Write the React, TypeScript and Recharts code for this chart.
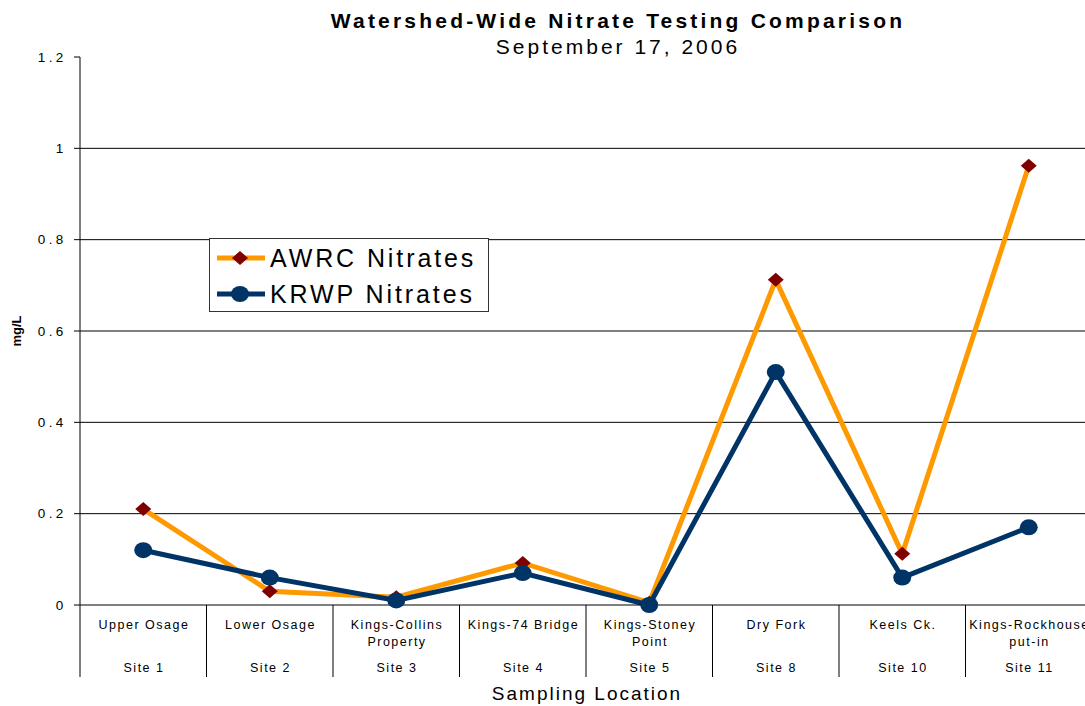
import React from 'react';
import { LineChart, Line, XAxis, YAxis, CartesianGrid, Legend } from 'recharts';

const siteNames = [
  'Upper Osage',
  'Lower Osage',
  'Kings-Collins\nProperty',
  'Kings-74 Bridge',
  'Kings-Stoney\nPoint',
  'Dry Fork',
  'Keels Ck.',
  'Kings-Rockhouse\nput-in',
];
const siteNumbers = ['Site 1', 'Site 2', 'Site 3', 'Site 4', 'Site 5', 'Site 8', 'Site 10', 'Site 11'];
const awrcNitrates = [0.21, 0.03, 0.017, 0.092, 0.005, 0.712, 0.112, 0.962];
const krwpNitrates = [0.12, 0.06, 0.01, 0.07, 0, 0.51, 0.06, 0.17];
const yTicks = [0, 0.2, 0.4, 0.6, 0.8, 1, 1.2];
const gridValues = [0.2, 0.4, 0.6, 0.8, 1];

const seriesNames = { awrc: 'AWRC Nitrates', krwp: 'KRWP Nitrates' };
const ORANGE = '#FF9900';
const DARKRED = '#800000';
const NAVY = '#003366';
const FONT = '"Liberation Sans", Arial, sans-serif';

const data = siteNames.map((name, i) => ({
  name,
  site: siteNumbers[i],
  awrc: awrcNitrates[i],
  krwp: krwpNitrates[i],
}));

const Diamond = ({ cx, cy }: { cx: number; cy: number }) => (
  <polygon
    points={`${cx},${cy - 7} ${cx + 8},${cy} ${cx},${cy + 7} ${cx - 8},${cy}`}
    fill={DARKRED}
  />
);

const Oval = ({ cx, cy }: { cx: number; cy: number }) => (
  <ellipse cx={cx} cy={cy} rx={9} ry={8} fill={NAVY} />
);

const renderDiamondDot = (p: any) => {
  if (p.cx == null || p.cy == null) return <g key={p.key} />;
  return (
    <g key={p.key ?? `d-${p.index}`}>
      <Diamond cx={p.cx} cy={p.cy} />
    </g>
  );
};

const renderOvalDot = (p: any) => {
  if (p.cx == null || p.cy == null) return <g key={p.key} />;
  return (
    <g key={p.key ?? `o-${p.index}`}>
      <Oval cx={p.cx} cy={p.cy} />
    </g>
  );
};

const XTick = (props: any) => {
  const { x, y, payload, index } = props;
  const half = payload && typeof payload.offset === 'number' && payload.offset > 0 ? payload.offset : 63.25;
  const lines = String(payload.value).split('\n');
  const site = siteNumbers[index];
  return (
    <g>
      <line x1={x - half} x2={x - half} y1={y} y2={y + 72} stroke="#000" strokeWidth={1} />
      {index === siteNames.length - 1 && (
        <line x1={x + half} x2={x + half} y1={y} y2={y + 72} stroke="#000" strokeWidth={1} />
      )}
      {lines.map((l, i) => (
        <text
          key={i}
          x={x + 0.75}
          y={y + 24 + i * 17}
          textAnchor="middle"
          fontSize={12.5}
          letterSpacing={1.5}
          fill="#000"
          fontFamily={FONT}
        >
          {l}
        </text>
      ))}
      <text
        x={x + 0.75}
        y={y + 67}
        textAnchor="middle"
        fontSize={12.5}
        letterSpacing={1.5}
        fill="#000"
        fontFamily={FONT}
      >
        {site}
      </text>
    </g>
  );
};

const LegendBox = () => (
  <svg width={280} height={74} style={{ display: 'block' }}>
    <rect x={0.5} y={0.5} width={279} height={73} fill="#fff" stroke="#333" strokeWidth={1} />
    <line x1={8} x2={56} y1={20} y2={20} stroke={ORANGE} strokeWidth={5} />
    <Diamond cx={31} cy={20} />
    <text x={61} y={29} fontSize={25} letterSpacing={2.9} fill="#000" fontFamily={FONT}>
      {seriesNames.awrc}
    </text>
    <line x1={8} x2={56} y1={56} y2={56} stroke={NAVY} strokeWidth={5} />
    <Oval cx={31} cy={56} />
    <text x={61} y={65} fontSize={25} letterSpacing={2.9} fill="#000" fontFamily={FONT}>
      {seriesNames.krwp}
    </text>
  </svg>
);

export default function App() {
  return (
    <div
      style={{
        position: 'fixed',
        left: 0,
        top: 0,
        width: 1085,
        height: 706,
        overflow: 'hidden',
        background: '#fff',
        fontFamily: FONT,
      }}
    >
      <LineChart
        width={1100}
        height={706}
        data={data}
        margin={{ top: 57, right: 8, left: 0, bottom: 26 }}
        style={{ fontFamily: FONT }}
      >
        <CartesianGrid vertical={false} horizontalValues={gridValues} stroke="#000" strokeWidth={1} />
        <XAxis
          dataKey="name"
          scale="band"
          height={75}
          interval={0}
          tickSize={0}
          tickMargin={0}
          tickLine={false}
          axisLine={{ stroke: '#000', strokeWidth: 1 }}
          tick={<XTick />}
        />
        <YAxis
          width={80}
          type="number"
          domain={[0, 1.2]}
          ticks={yTicks}
          interval={0}
          tickSize={6}
          tickMargin={7.5}
          axisLine={{ stroke: '#000', strokeWidth: 1 }}
          tickLine={{ stroke: '#000', strokeWidth: 1 }}
          tick={{ fontSize: 13.5, fill: '#000', letterSpacing: 3.3, fontFamily: FONT }}
          tickFormatter={(v: number) => String(v)}
        />
        <Legend
          layout="horizontal"
          verticalAlign="middle"
          align="center"
          content={() => <LegendBox />}
          wrapperStyle={{ position: 'absolute', left: 209, top: 238, width: 280, height: 74 }}
        />
        <Line
          type="linear"
          dataKey="awrc"
          name={seriesNames.awrc}
          stroke={ORANGE}
          strokeWidth={5}
          dot={renderDiamondDot}
          activeDot={false}
          isAnimationActive={false}
        />
        <Line
          type="linear"
          dataKey="krwp"
          name={seriesNames.krwp}
          stroke={NAVY}
          strokeWidth={5}
          dot={renderOvalDot}
          activeDot={false}
          isAnimationActive={false}
        />
      </LineChart>

      <div
        style={{
          position: 'absolute',
          left: 618,
          top: 9,
          transform: 'translateX(-50%)',
          whiteSpace: 'nowrap',
          fontSize: 21,
          fontWeight: 'bold',
          letterSpacing: 3.2,
          lineHeight: '24px',
          color: '#000',
        }}
      >
        Watershed-Wide Nitrate Testing Comparison
      </div>
      <div
        style={{
          position: 'absolute',
          left: 618,
          top: 35,
          transform: 'translateX(-50%)',
          whiteSpace: 'nowrap',
          fontSize: 21,
          letterSpacing: 3,
          lineHeight: '24px',
          color: '#000',
        }}
      >
        September 17, 2006
      </div>
      <div
        style={{
          position: 'absolute',
          left: 587,
          top: 683,
          transform: 'translateX(-50%)',
          whiteSpace: 'nowrap',
          fontSize: 19,
          letterSpacing: 2,
          lineHeight: '22px',
          color: '#000',
        }}
      >
        Sampling Location
      </div>
      <div
        style={{
          position: 'absolute',
          left: 17,
          top: 331,
          transform: 'translate(-50%, -50%) rotate(-90deg)',
          whiteSpace: 'nowrap',
          fontSize: 13,
          fontWeight: 'bold',
          lineHeight: '16px',
          color: '#000',
        }}
      >
        mg/L
      </div>
    </div>
  );
}
